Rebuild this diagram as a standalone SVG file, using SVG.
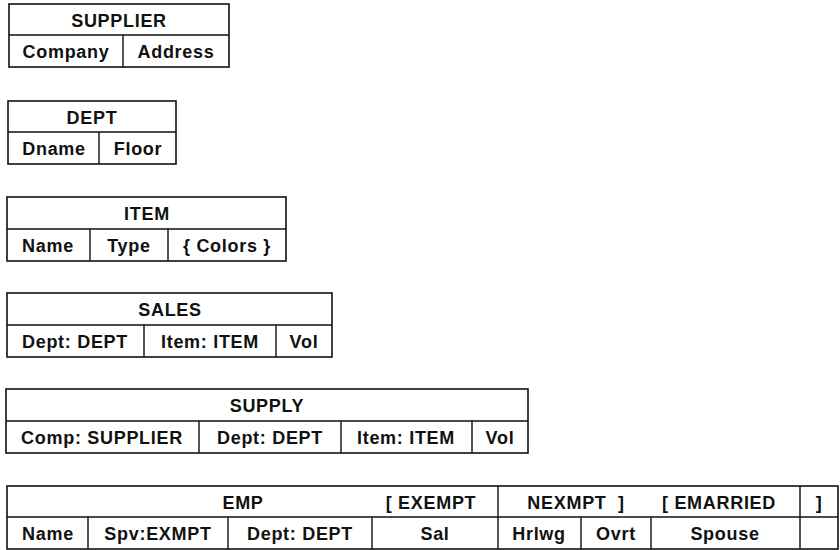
<svg xmlns="http://www.w3.org/2000/svg" width="840" height="550" viewBox="0 0 840 550">
<style>
.b{fill:#fff;stroke:#111;stroke-width:1.6}
.l{stroke:#111;stroke-width:1.4;fill:none}
text{font-family:"Liberation Sans",Arial,sans-serif;font-weight:bold;font-size:18px;letter-spacing:0.7px;fill:#111;text-anchor:middle}
</style>
<rect width="840" height="550" fill="#fff"/>
<g id="supplier">
<rect class="b" x="9" y="4" width="220" height="63"/>
<path class="l" d="M9 35H229M123 35V67"/>
<text x="119" y="27">SUPPLIER</text>
<text x="66" y="58">Company</text>
<text x="176" y="58">Address</text>
</g>
<g id="dept">
<rect class="b" x="8" y="101" width="168" height="63"/>
<path class="l" d="M8 132H176M99 132V164"/>
<text x="92" y="124">DEPT</text>
<text x="54" y="155">Dname</text>
<text x="138" y="155">Floor</text>
</g>
<g id="item">
<rect class="b" x="7" y="197" width="279" height="64"/>
<path class="l" d="M7 229H286M90 229V261M168 229V261"/>
<text x="147" y="220">ITEM</text>
<text x="48" y="252">Name</text>
<text x="129" y="252">Type</text>
<text x="227" y="252">{ Colors }</text>
</g>
<g id="sales">
<rect class="b" x="7" y="293" width="325" height="64"/>
<path class="l" d="M7 325H332M144 325V357M276 325V357"/>
<text x="170" y="316">SALES</text>
<text x="75" y="348">Dept: DEPT</text>
<text x="210" y="348">Item: ITEM</text>
<text x="304" y="348">Vol</text>
</g>
<g id="supply">
<rect class="b" x="6" y="389" width="522" height="64"/>
<path class="l" d="M6 421H528M199 421V453M341 421V453M472 421V453"/>
<text x="267" y="412">SUPPLY</text>
<text x="102" y="444">Comp: SUPPLIER</text>
<text x="270" y="444">Dept: DEPT</text>
<text x="406" y="444">Item: ITEM</text>
<text x="500" y="444">Vol</text>
</g>
<g id="emp">
<rect class="b" x="7" y="486" width="831" height="63"/>
<path class="l" d="M7 517H838M88 517V549M228 517V549M372 517V549M498 486V549M581 517V549M651 517V549M800 486V549"/>
<text x="243" y="509">EMP</text>
<text x="431" y="509">[ EXEMPT</text>
<text x="576" y="509" xml:space="preserve">NEXMPT  ]</text>
<text x="719" y="509">[ EMARRIED</text>
<text x="819" y="509">]</text>
<text x="48" y="540">Name</text>
<text x="158" y="540">Spv:EXMPT</text>
<text x="300" y="540">Dept: DEPT</text>
<text x="435" y="540">Sal</text>
<text x="539" y="540">Hrlwg</text>
<text x="616" y="540">Ovrt</text>
<text x="725" y="540">Spouse</text>
</g>
</svg>
